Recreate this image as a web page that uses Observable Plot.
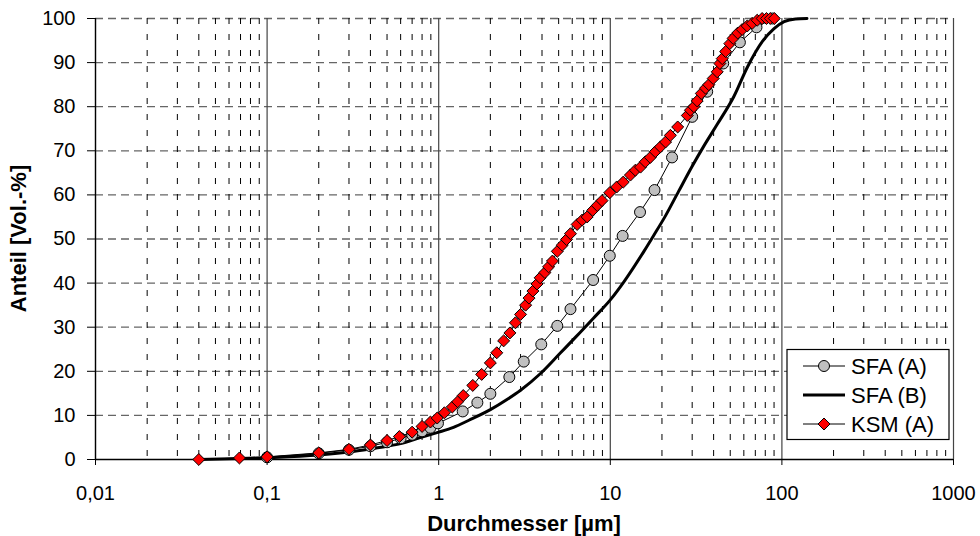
<!DOCTYPE html>
<html><head><meta charset="utf-8">
<script src="https://cdn.jsdelivr.net/npm/d3@7"></script>
<script src="https://cdn.jsdelivr.net/npm/@observablehq/plot@0.6"></script>
<style>
body{margin:0;background:#fff}
svg{font-family:"Liberation Sans",Arial,sans-serif}
</style>
</head><body><div id="chart"></div>
<script>
// Axis ticks
const xDecades = [0.01, 0.1, 1, 10, 100, 1000];
const xTickLabels = ["0,01", "0,1", "1", "10", "100", "1000"];
const minorMultipliers = [2, 3, 4, 5, 6, 7, 8, 9];
const yTicks = [0, 10, 20, 30, 40, 50, 60, 70, 80, 90, 100];
const xTitle = "Durchmesser [µm]";
const yTitle = "Anteil [Vol.-%]";
const seriesNames = ["SFA (A)", "SFA (B)", "KSM (A)"];

// SFA (A) – grey circles
const sfaA_x = [0.1, 0.2, 0.3, 0.4, 0.5, 0.6, 0.7, 0.8, 0.895, 0.99, 1.38, 1.68, 2.0, 2.58, 3.13, 3.96, 4.91, 5.86, 7.94, 9.93, 11.8, 14.9, 18.1, 22.9, 30.0, 36.7, 45.5, 56.9, 71.1, 88];
const sfaA_y = [0.5, 1.4, 2.2, 3.0, 3.9, 4.8, 5.6, 6.4, 7.2, 8.2, 10.9, 12.9, 14.9, 18.7, 22.2, 26.1, 30.3, 34.1, 40.7, 46.2, 50.7, 56.1, 61.1, 68.5, 77.7, 83.4, 89.8, 94.6, 98.0, 100];

// SFA (B) – thick black line
const sfaB_x = [0.04, 0.07, 0.1, 0.2, 0.3, 0.4, 0.5, 0.6, 0.78, 1.0, 1.22, 1.5, 2.0, 2.5, 3.0, 3.92, 5.13, 6.3, 8.0, 10.0, 12.0, 15.7, 17.9, 21.0, 25.0, 30.0, 35.0, 42.0, 52.5, 63.0, 77.0, 90.0, 103, 120, 140];
const sfaB_y = [0.0, 0.2, 0.4, 1.0, 1.7, 2.4, 3.0, 3.6, 5.0, 6.2, 7.3, 8.9, 11.3, 13.6, 15.7, 19.5, 24.2, 27.8, 32.1, 36.2, 40.3, 47.2, 50.8, 55.3, 60.8, 66.5, 71.0, 76.0, 82.3, 89.0, 94.8, 97.7, 99.3, 99.9, 100];

// KSM (A) – red diamonds
const ksm_x = [0.04, 0.069, 0.1, 0.2, 0.3, 0.4, 0.5, 0.59, 0.7, 0.8, 0.895, 0.98, 1.08, 1.2, 1.29, 1.39, 1.58, 1.78, 2.0, 2.18, 2.39, 2.6, 2.8, 3.0, 3.21, 3.36, 3.54, 3.74, 3.9, 4.16, 4.37, 4.6, 4.91, 5.25, 5.56, 5.86, 6.41, 6.86, 7.33, 7.9, 8.4, 8.95, 9.93, 10.9, 11.9, 13.1, 14.0, 15.0, 16.0, 17.1, 18.3, 19.6, 21.0, 22.4, 24.7, 28.1, 29.3, 30.7, 32.1, 33.9, 35.9, 37.5, 39.8, 42.0, 43.5, 44.9, 47.0, 49.7, 52.0, 55.3, 58.7, 62.8, 67.1, 71.8, 76.7, 81.3, 85.6, 90.3];
const ksm_y = [0.0, 0.35, 0.6, 1.5, 2.3, 3.3, 4.3, 5.2, 6.2, 7.5, 8.5, 9.4, 10.6, 11.9, 13.1, 14.5, 16.8, 19.3, 21.9, 24.2, 26.9, 28.7, 31.0, 32.9, 35.0, 36.6, 38.2, 39.8, 41.2, 42.4, 43.7, 45.0, 47.2, 48.6, 49.9, 51.2, 53.3, 54.3, 55.0, 56.5, 57.6, 58.7, 60.5, 61.8, 62.9, 64.5, 65.6, 66.3, 67.5, 68.5, 69.8, 70.9, 72.0, 73.5, 75.4, 78.0, 79.2, 80.0, 81.3, 83.0, 84.2, 85.0, 86.4, 87.9, 89.8, 90.9, 92.5, 94.3, 95.5, 96.7, 97.5, 98.3, 98.9, 99.6, 100, 100, 100, 100];

const toRows = (xs, ys) => xs.map((x, i) => ({x, y: ys[i]}));
const sfaA = toRows(sfaA_x, sfaA_y);
const sfaB = toRows(sfaB_x, sfaB_y);
const ksm = toRows(ksm_x, ksm_y);
const minorTicks = xDecades.slice(0, -1).flatMap(d => minorMultipliers.map(m => d * m));

const circleR = 5.5;
const diamondR = 5.4;

const chart = Plot.plot({
  width: 980,
  height: 536,
  marginLeft: 95,
  marginRight: 27,
  marginTop: 18,
  marginBottom: 77,
  style: {fontFamily: "Liberation Sans, Arial, sans-serif", fontSize: "20px", color: "#000", background: "#fff", overflow: "visible"},
  x: {type: "log", domain: [0.01, 1000]},
  y: {domain: [0, 100]},
  marks: [
    Plot.ruleY(yTicks.filter(d => d > 0), {stroke: "#666", strokeDasharray: "8,5", strokeWidth: 1.3}),
    Plot.ruleX(minorTicks, {stroke: "#000", strokeDasharray: "6,10", strokeWidth: 1}),
    Plot.ruleX(xDecades, {stroke: "#444", strokeWidth: 1.2}),
    Plot.ruleY([0], {stroke: "#000", strokeWidth: 1.3}),
    Plot.ruleX([0.01], {stroke: "#000", strokeWidth: 1.3}),
    Plot.axisX({ticks: xDecades, tickFormat: d => xTickLabels[xDecades.indexOf(d)], tickSize: 6, tickPadding: 20, label: null}),
    Plot.axisY({ticks: yTicks, tickSize: 8, tickPadding: 12, label: null}),
    Plot.line(sfaB, {x: "x", y: "y", stroke: "#000", strokeWidth: 3, curve: "monotone-x"}),
    Plot.line(sfaA, {x: "x", y: "y", stroke: "#000", strokeWidth: 1}),
    Plot.dot(sfaA, {x: "x", y: "y", r: circleR, fill: "#c0c0c0", stroke: "#000", strokeWidth: 1}),
    Plot.line(ksm, {x: "x", y: "y", stroke: "#000", strokeWidth: 1}),
    Plot.dot(ksm, {x: "x", y: "y", symbol: "diamond2", r: diamondR, fill: "#ff0000", stroke: "#000", strokeWidth: 1})
  ]
});

const svg = d3.select(chart);
// axis titles
svg.append("text")
  .attr("x", 524).attr("y", 531)
  .attr("text-anchor", "middle")
  .attr("font-weight", "bold").attr("font-size", 22)
  .text(xTitle);
svg.append("text")
  .attr("transform", "translate(26,238.5) rotate(-90)")
  .attr("text-anchor", "middle")
  .attr("font-weight", "bold").attr("font-size", 22)
  .text(yTitle);

// legend
const lg = svg.append("g").attr("text-anchor", "start");
lg.append("rect").attr("x", 787).attr("y", 349.5).attr("width", 162).attr("height", 90)
  .attr("fill", "#fff").attr("stroke", "#000").attr("stroke-width", 1.2);
const rowY = [366, 395, 424];
seriesNames.forEach((name, i) => {
  const y = rowY[i];
  lg.append("line").attr("x1", 803).attr("x2", 845).attr("y1", y).attr("y2", y)
    .attr("stroke", "#000").attr("stroke-width", i === 1 ? 3 : 1);
  if (i === 0) {
    lg.append("circle").attr("cx", 824).attr("cy", y).attr("r", circleR)
      .attr("fill", "#c0c0c0").attr("stroke", "#000");
  } else if (i === 2) {
    lg.append("path").attr("transform", `translate(824,${y})`)
      .attr("d", d3.symbol(d3.symbolDiamond2, diamondR * diamondR * Math.PI)())
      .attr("fill", "#ff0000").attr("stroke", "#000");
  }
  lg.append("text").attr("x", 851).attr("y", y).attr("dy", "0.36em")
    .attr("text-anchor", "start")
    .attr("font-size", 22).text(name);
});

document.getElementById("chart").appendChild(chart);
</script>
</body></html>
